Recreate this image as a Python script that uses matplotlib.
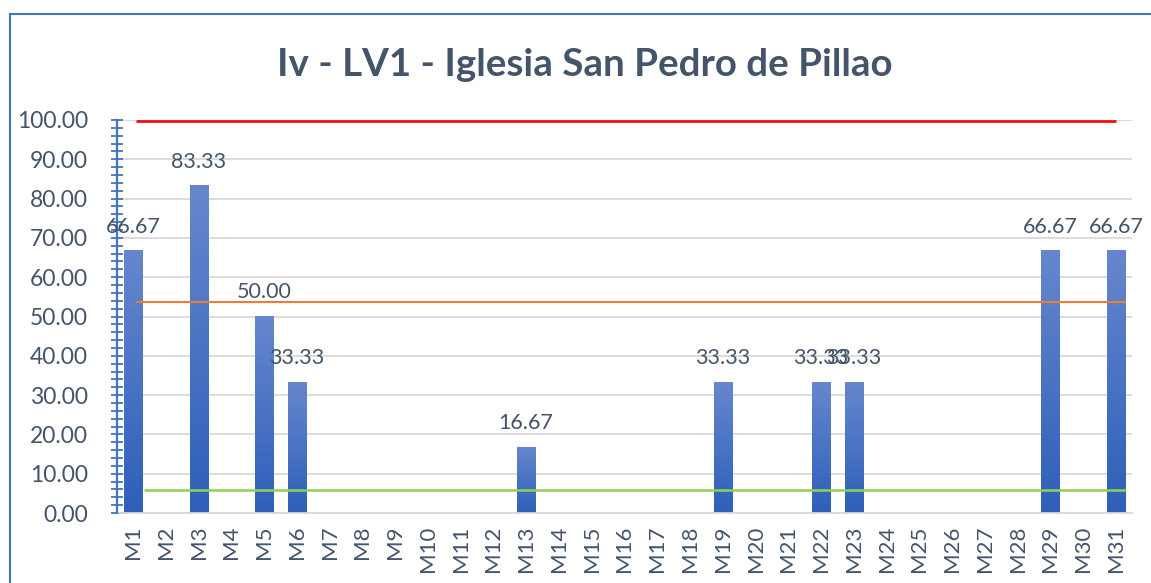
import matplotlib
matplotlib.use("Agg")
import matplotlib.pyplot as plt
import numpy as np
from matplotlib.lines import Line2D
from matplotlib.ticker import MultipleLocator
from matplotlib.colors import LinearSegmentedColormap

categories = [f"M{i}" for i in range(1, 32)]
values = [66.67, 0, 83.33, 0, 50.00, 33.33, 0, 0, 0, 0, 0, 0, 16.67, 0, 0, 0, 0, 0,
          33.33, 0, 0, 33.33, 33.33, 0, 0, 0, 0, 0, 66.67, 0, 66.67]
red_level = 99.7
orange_level = 53.6
green_level = 5.8
title = "Iv - LV1 - Iglesia San Pedro de Pillao"

plt.rcParams['font.family'] = ['Lato', 'DejaVu Sans']
TXT = '#44546A'
BLUE = '#4472C4'
GRID = '#D9D9D9'

W, H = 1151, 583
fig = plt.figure(figsize=(W / 100, H / 100), dpi=100)
fig.patch.set_facecolor('white')

left, right = 116.6 / W, 1132.4 / W
bottom, top = 1 - 513 / H, 1 - 120 / H
ax = fig.add_axes([left, bottom, right - left, top - bottom])

x = np.arange(len(categories))
bars = ax.bar(x, values, width=0.55, facecolor='none', edgecolor='none', zorder=2)

grad = np.linspace(0, 1, 256).reshape(-1, 1)
cmap = LinearSegmentedColormap.from_list('g', ['#2E5FB9', '#6687CD'])
for b, v in zip(bars, values):
    if v > 0:
        x0 = b.get_x()
        ax.imshow(grad, extent=[x0, x0 + b.get_width(), 0, v], origin='lower',
                  cmap=cmap, aspect='auto', zorder=2, interpolation='bilinear')
        ax.annotate(f"{v:.2f}", (b.get_x() + b.get_width() / 2, v),
                    xytext=(0, 18), textcoords='offset pixels', ha='center',
                    va='baseline', fontsize=15.5, color=TXT, zorder=5)

ax.plot([0.1, 30.0], [red_level] * 2, color='#FF0000', lw=1.9, zorder=3, solid_capstyle='butt')
ax.plot([0.1, 30.3], [orange_level] * 2, color='#ED7D31', lw=1.5, zorder=3, solid_capstyle='butt')
ax.plot([0.35, 30.3], [green_level] * 2, color='#92D050', lw=1.8, zorder=3, solid_capstyle='butt')

ax.set_xlim(-0.5, len(categories) - 0.5)
ax.set_ylim(0, 100)
ax.yaxis.set_major_locator(MultipleLocator(10))
ax.yaxis.set_minor_locator(MultipleLocator(2))
ax.yaxis.set_major_formatter(matplotlib.ticker.FormatStrFormatter('%.2f'))
ax.grid(axis='y', which='major', color=GRID, lw=1.3, zorder=0)
ax.set_axisbelow(True)

ax.set_xticks(x)
ax.set_xticklabels(categories, rotation=90, fontsize=16, color=TXT)
ax.tick_params(axis='x', length=0, pad=9)
ax.tick_params(axis='y', which='both', direction='inout', length=9, width=1.3,
               color=BLUE, labelsize=16.5, labelcolor=TXT, pad=16)

for s in ['top', 'right']:
    ax.spines[s].set_visible(False)
ax.spines['left'].set_color(BLUE)
ax.spines['left'].set_linewidth(1.6)
ax.spines['left'].set_zorder(4)
ax.spines['bottom'].set_color(GRID)
ax.spines['bottom'].set_linewidth(1.3)

fig.text(585 / W, 1 - 65 / H, title, ha='center', va='center', fontsize=27.7,
         fontweight='bold', color=TXT)

fig.add_artist(Line2D([10 / W, 10 / W], [0, 1 - 14 / H], color=BLUE, lw=1.5,
                      transform=fig.transFigure))
fig.add_artist(Line2D([10 / W, 1], [1 - 14 / H, 1 - 14 / H], color=BLUE, lw=1.5,
                      transform=fig.transFigure))

fig.savefig('out.png', dpi=100, facecolor='white')
